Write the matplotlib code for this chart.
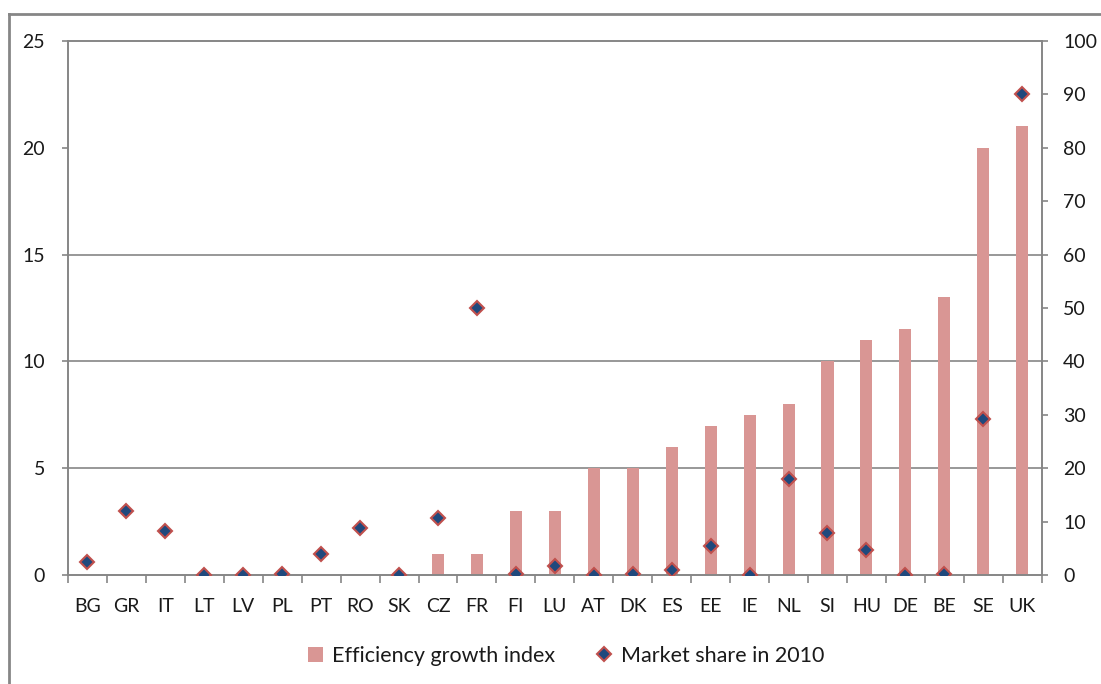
import numpy as np
import matplotlib
matplotlib.use("Agg")
import matplotlib.pyplot as plt
from matplotlib.lines import Line2D

countries = ["BG", "GR", "IT", "LT", "LV", "PL", "PT", "RO", "SK", "CZ", "FR", "FI", "LU",
             "AT", "DK", "ES", "EE", "IE", "NL", "SI", "HU", "DE", "BE", "SE", "UK"]
efficiency_growth = [0, 0, 0, 0, 0, 0, 0, 0, 0, 1, 1, 3, 3,
                     5, 5, 6, 7, 7.5, 8, 10, 11, 11.5, 13, 20, 21]
market_share_2010 = [2.5, 12.1, 8.3, 0.1, 0.1, 0.25, 3.9, 8.9, 0.1, 10.7, 50, 0.2, 1.8,
                     0.1, 0.2, 1.0, 5.4, 0.1, 18.0, 8.0, 4.7, 0.1, 0.2, 29.2, 90.1]
left_ticks = [0, 5, 10, 15, 20, 25]
right_ticks = [0, 10, 20, 30, 40, 50, 60, 70, 80, 90, 100]
grid_values = [5, 10, 15]

plt.rcParams['font.family'] = ['Lato', 'DejaVu Sans']
GRAY = "#868686"
BAR = "#D99694"
TXT = "#1a1a1a"

fig = plt.figure(figsize=(11.01, 6.84), dpi=100)
ax = fig.add_axes([68/1101, 1-575.3/684, (1041.7-68)/1101, (575.3-40.7)/684])
ax2 = ax.twinx()

x = np.arange(len(countries))
ax.bar(x, efficiency_growth, width=0.31, color=BAR, zorder=2, label="Efficiency growth index")
for g in grid_values:
    ax.axhline(g, color=GRAY, lw=1.2, zorder=1)

ax2.plot(x, market_share_2010, linestyle="none", marker="D", markersize=6.8,
         markerfacecolor="#1F497D", markeredgecolor="#C0504D", markeredgewidth=1.5,
         zorder=3, label="Market share in 2010")

ax.set_xlim(-0.5, len(countries) - 0.5)
ax.set_ylim(0, 25)
ax2.set_ylim(0, 100)
ax.set_yticks(left_ticks)
ax2.set_yticks(right_ticks)
ax.set_xticks(x)
ax.set_xticklabels(countries)
ax.set_xticks(np.arange(-0.5, len(countries), 1.0), minor=True)
ax.tick_params(axis="x", which="major", length=0, pad=16, labelsize=14, labelcolor=TXT)
ax.tick_params(axis="x", which="minor", length=6, width=1.2, color=GRAY, direction="out")
ax.tick_params(axis="y", length=4.5, width=1.2, color=GRAY, pad=12, labelsize=14, labelcolor=TXT)
ax2.tick_params(axis="y", length=4.5, width=1.2, color=GRAY, pad=11, labelsize=14, labelcolor=TXT)

for a in (ax, ax2):
    for s in a.spines.values():
        s.set_color(GRAY)
        s.set_linewidth(1.2)

ax.set_zorder(ax2.get_zorder() - 1)
ax2.patch.set_visible(False)

# outer chart frame (partially visible)
fig.add_artist(Line2D([9/1101, 9/1101], [0, 1-13.5/684], color=GRAY, lw=2, transform=fig.transFigure))
fig.add_artist(Line2D([9/1101, 1], [1-13.5/684, 1-13.5/684], color=GRAY, lw=2, transform=fig.transFigure))

h1, l1 = ax.get_legend_handles_labels()
h2, l2 = ax2.get_legend_handles_labels()
fig.legend(h1 + h2, l1 + l2, loc="center", bbox_to_anchor=(566/1101, 1-656/684), ncol=2,
           frameon=False, fontsize=15.5, handlelength=0.7, handleheight=0.7,
           columnspacing=1.9, handletextpad=0.45, labelcolor=TXT)

fig.savefig("out.png", dpi=100)
